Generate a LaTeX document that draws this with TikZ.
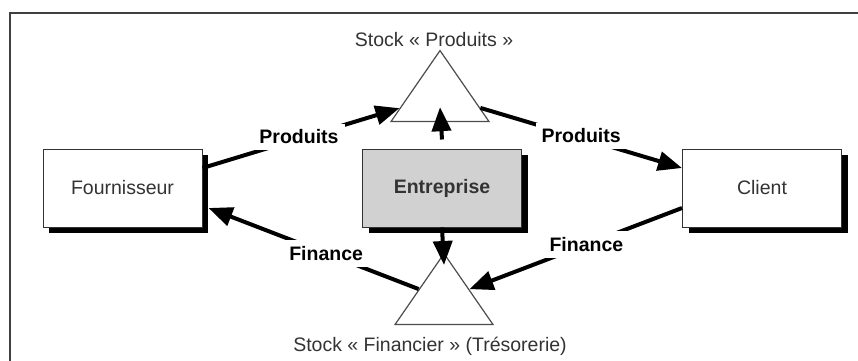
\documentclass[tikz,border=0pt]{standalone}
\usepackage{fontspec}
\setmainfont{Liberation Sans}
\usepackage{tikz}
\usetikzlibrary{arrows.meta, positioning, shapes.geometric, shadows}
\newcommand{\diagfont}{\fontsize{19.5pt}{23pt}\selectfont}
\tikzset{
  partner/.style={draw=black!80, fill=white, line width=1pt,
    minimum width=159pt, minimum height=78pt, text=black!80, font=\diagfont,
    drop shadow={shadow xshift=6pt, shadow yshift=-6pt, fill=black, opacity=1}},
  stock/.style={draw=black!70, line width=1.2pt, isosceles triangle,
    isosceles triangle stretches, shape border rotate=90,
    minimum width=98pt, minimum height=71pt, inner sep=0pt},
  flow/.style={line width=4pt, -{Triangle[length=24pt, width=19pt]}},
  lbl/.style={fill=white, font=\diagfont\bfseries, inner sep=6pt},
  stocklbl/.style={font=\diagfont, text=black!80, inner sep=0pt},
}

\begin{document}
\begin{tikzpicture}[x=1pt, y=-1pt]
      \useasboundingbox (0,0) rectangle (858,360);
      \clip (0,0) rectangle (858,360);
      % frame
      \draw[black!75, line width=1.5pt] (10,13) rectangle (880,380);

      % partners
      \node[partner] (four) at (122.5,188) {Fournisseur};
      \node[partner, fill=black!18, font=\diagfont\bfseries] (entr) at (442,188) {Entreprise};
      \node[partner] (client) at (762,188) {Client};

      % stocks
      \node[stock, anchor=apex] (stockP) at (440,49) {};
      \node[stock, anchor=apex] (stockF) at (444,252) {};
      \node[stocklbl, above=2pt of stockP, xshift=-6pt] {Stock « Produits »};
      \node[stocklbl, below=12pt of stockF, xshift=-14pt] {Stock « Financier » (Trésorerie)};

      % flows
      \draw[flow] ([yshift=20pt]four.east) -- node[lbl, pos=.49, yshift=2pt] {Produits} (stockP);
      \draw[flow] (stockP) -- node[lbl, pos=.5, yshift=2pt] {Produits} ([yshift=20pt]client.west);
      \draw[flow] ([yshift=-20pt]client.west) -- node[lbl, pos=.45] {Finance} (stockF);
      \draw[flow] (stockF) -- node[lbl, pos=.44] {Finance} ([xshift=6pt, yshift=-20pt]four.east);
      \draw[flow] ([yshift=9pt]entr.north) -- ([yshift=15pt]stockP.south);
      \draw[flow] (entr.south) -- ([yshift=-13pt]stockF.apex);
\end{tikzpicture}
\end{document}
